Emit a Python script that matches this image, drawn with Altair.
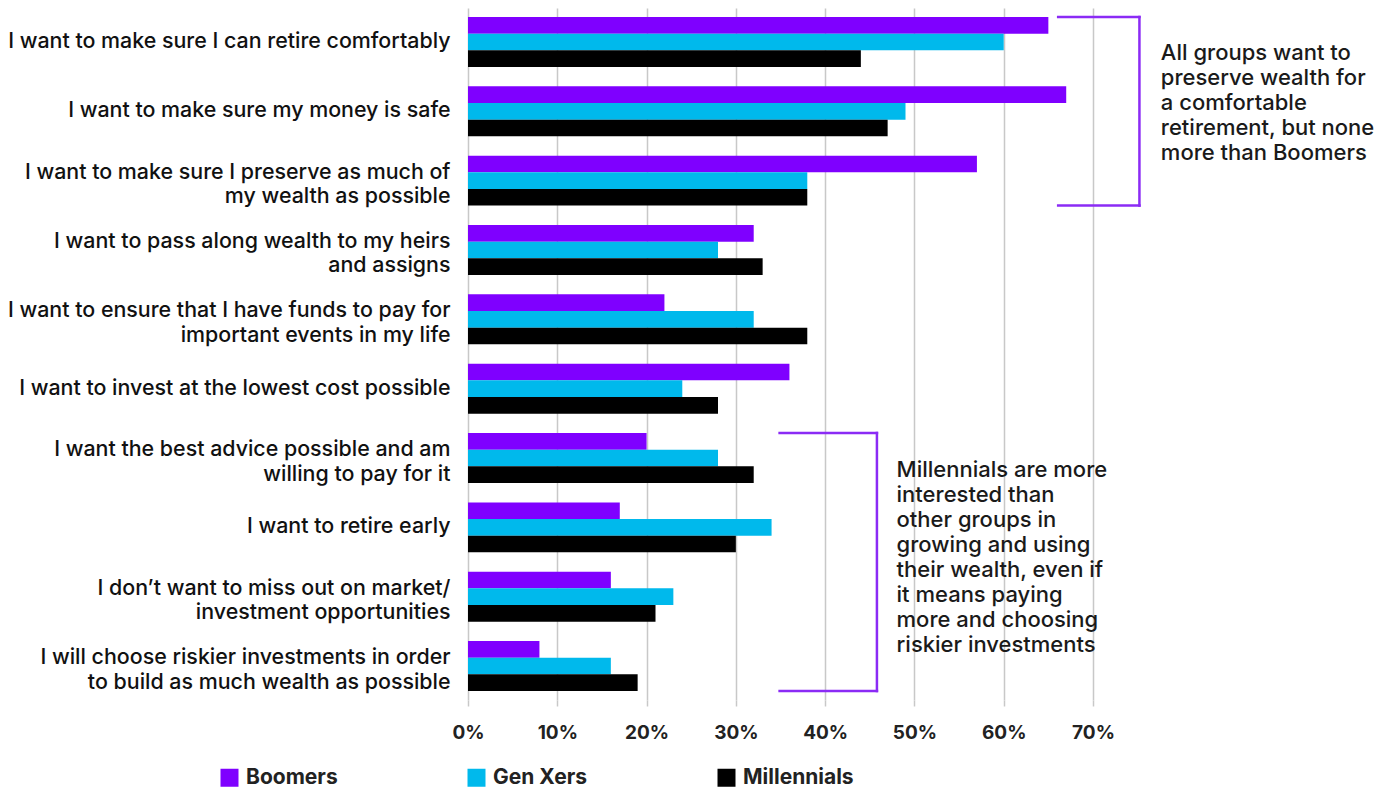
import altair as alt
import pandas as pd

# ---------------- data ----------------
categories = [
    "I want to make sure I can retire comfortably",
    "I want to make sure my money is safe",
    "I want to make sure I preserve as much of|my wealth as possible",
    "I want to pass along wealth to my heirs|and assigns",
    "I want to ensure that I have funds to pay for|important events in my life",
    "I want to invest at the lowest cost possible",
    "I want the best advice possible and am|willing to pay for it",
    "I want to retire early",
    "I don\u2019t want to miss out on market/|investment opportunities",
    "I will choose riskier investments in order|to build as much wealth as possible",
]
series = ["Boomers", "Gen Xers", "Millennials"]
boomers = [65, 67, 57, 32, 22, 36, 20, 17, 16, 8]
gen_xers = [60, 49, 38, 28, 32, 24, 28, 34, 23, 16]
millennials = [44, 47, 38, 33, 38, 28, 32, 30, 21, 19]
colors = ["#7F00FF", "#00B9EC", "#000000"]
tick_values = [0, 10, 20, 30, 40, 50, 60, 70]

note_top = "All groups want to\npreserve wealth for\na comfortable\nretirement, but none\nmore than Boomers"
note_bottom = ("Millennials are more\ninterested than\nother groups in\ngrowing and using\n"
               "their wealth, even if\nit means paying\nmore and choosing\nriskier investments")

rows = []
for i, c in enumerate(categories):
    for s, vals in zip(series, [boomers, gen_xers, millennials]):
        rows.append({"cat": c, "series": s, "value": vals[i]})
df = pd.DataFrame(rows)

# ---------------- layout ----------------
W, H = 625, 692
PI, PO = 0.28, 0.13
n = len(categories)
step = H / (n - PI + 2 * PO)


def group_top(i):
    return PO * step + i * step


def group_bottom(i):
    return group_top(i) + step * (1 - PI)


FONT = "Inter"
BRACKET = "#8B2BF5"

x_scale = alt.Scale(domain=[0, 70], nice=False, zero=True)

bars = alt.Chart(df).mark_bar().encode(
    x=alt.X(
        "value:Q",
        scale=x_scale,
        axis=alt.Axis(
            values=tick_values,
            labelExpr="datum.value + '%'",
            labelFlush=False,
            title=None,
            grid=True,
            gridColor="#c8c8c8",
            gridWidth=1.5,
            domain=False,
            tickColor="#c8c8c8",
            tickWidth=1.5,
            tickSize=6,
            labelFont=FONT,
            labelFontWeight="bold",
            labelFontSize=19,
            labelColor="#222222",
            labelPadding=17,
        ),
    ),
    y=alt.Y(
        "cat:N",
        sort=categories,
        scale=alt.Scale(paddingInner=PI, paddingOuter=PO),
        axis=alt.Axis(
            title=None,
            domain=False,
            ticks=False,
            grid=False,
            labelExpr="split(datum.label, '|')",
            labelOffset={"condition": {"test": "indexof(datum.value, '|') >= 0", "value": -8},
                         "value": 0},
            labelFont=FONT,
            labelFontSize=21.4,
            labelFontWeight=500,
            labelLineHeight=24.5,
            labelPadding=18,
            labelLimit=600,
            labelColor="#111111",
        ),
    ),
    yOffset=alt.YOffset("series:N", sort=series,
                        scale=alt.Scale(paddingInner=0, paddingOuter=0)),
    color=alt.Color(
        "series:N",
        sort=series,
        scale=alt.Scale(domain=series, range=colors),
        legend=alt.Legend(
            title=None,
            orient="none",
            direction="horizontal",
            legendX=-249,
            legendY=759,
            symbolType="square",
            symbolSize=324,
            symbolStrokeWidth=0,
            symbolOpacity=1,
            labelFont=FONT,
            labelFontSize=21,
            labelFontWeight="bold",
            labelColor="#222222",
            labelOffset=6,
            columnPadding=128,
            padding=0,
        ),
    ),
)

# brackets (annotation)
seg = pd.DataFrame([
    {"x": 66.1, "x2": 75.2, "py": group_top(0), "py2": group_top(0)},
    {"x": 75.2, "x2": 75.2, "py": group_top(0), "py2": group_bottom(2)},
    {"x": 66.1, "x2": 75.2, "py": group_bottom(2), "py2": group_bottom(2)},
    {"x": 34.9, "x2": 45.8, "py": group_top(6), "py2": group_top(6)},
    {"x": 45.8, "x2": 45.8, "py": group_top(6), "py2": group_bottom(9)},
    {"x": 34.9, "x2": 45.8, "py": group_bottom(9), "py2": group_bottom(9)},
])
brackets = alt.Chart(seg).mark_rule(color=BRACKET, strokeWidth=2.5, strokeCap="square").encode(
    x=alt.X("x:Q", scale=x_scale),
    x2="x2:Q",
    y=alt.Y("py:Q", scale=None),
    y2="py2:Q",
)

notes = pd.DataFrame([
    {"x": 77.6, "py": group_top(0) + 36, "t": note_top},
    {"x": 48.0, "py": group_top(6) + 37, "t": note_bottom},
])
texts = alt.Chart(notes).mark_text(
    align="left", baseline="middle", lineBreak="\n", lineHeight=25,
    font=FONT, fontSize=22, fontWeight=500, color="#1a1a1a",
).encode(
    x=alt.X("x:Q", scale=x_scale),
    y=alt.Y("py:Q", scale=None),
    text="t:N",
)

chart = alt.layer(bars, brackets, texts).properties(
    width=W,
    height=H,
    autosize=alt.AutoSizeParams(type="none"),
    padding={"left": 460, "top": 0, "right": 286, "bottom": 90},
).configure_view(stroke=None)

chart.save("out.html", embed_options={"renderer": "svg", "actions": False})
